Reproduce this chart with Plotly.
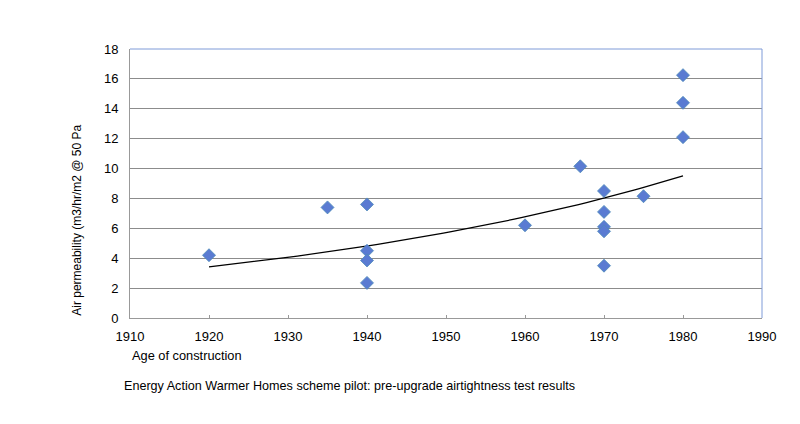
import numpy as np
import plotly.graph_objects as go

# pre-upgrade airtightness test results
year_built = [1920, 1935, 1940, 1940, 1940, 1940, 1960, 1967,
              1970, 1970, 1970, 1970, 1970, 1975, 1980, 1980, 1980]
air_perm = [4.2, 7.4, 7.6, 4.5, 3.85, 2.35, 6.2, 10.15,
            8.5, 7.1, 6.1, 5.8, 3.5, 8.15, 16.25, 14.4, 12.1]

x_ticks = [1910, 1920, 1930, 1940, 1950, 1960, 1970, 1980, 1990]
y_ticks = [0, 2, 4, 6, 8, 10, 12, 14, 16, 18]

# exponential trendline, same as the spreadsheet one
xa = np.array(year_built, dtype=float)
b, ln_a = np.polyfit(xa, np.log(air_perm), 1)
trend_x = np.linspace(xa.min(), xa.max(), 60)
trend_y = np.exp(ln_a + b * trend_x)

fig = go.Figure()

fig.add_trace(go.Scatter(x=trend_x, y=trend_y, mode='lines',
                         line=dict(color='black', width=1.3),
                         hoverinfo='skip'))

fig.add_trace(go.Scatter(x=year_built, y=air_perm, mode='markers',
                         marker=dict(symbol='diamond', size=10, color='#5A7BD2',
                                     line=dict(color='#4E8CB8', width=0.8))))

# the page body has an 8px margin, so the margins below are shifted by 8
fig.update_layout(
    width=800, height=424,
    margin=dict(l=122, r=46, t=41, b=114),
    paper_bgcolor='white', plot_bgcolor='white',
    showlegend=False,
    font=dict(family='Liberation Sans, Arial', size=13, color='black'),
    xaxis=dict(range=[1910, 1990], tickvals=x_ticks, showgrid=False,
               showline=True, linecolor='#999999', linewidth=1,
               ticks='inside', ticklen=3, tickcolor='#999999',
               ticklabelstandoff=6,
               zeroline=False, mirror=False),
    yaxis=dict(range=[0, 18], tickvals=y_ticks, showgrid=True,
               gridcolor='#8c8c8c', gridwidth=1,
               showline=True, linecolor='#999999', linewidth=1,
               ticks='', ticklabelstandoff=8,
               zeroline=False),
    shapes=[
        # blue frame on top and right of the plot area
        dict(type='line', xref='paper', yref='paper', x0=0, x1=1, y0=1, y1=1,
             line=dict(color='#7F9BD8', width=1)),
        dict(type='line', xref='paper', yref='paper', x0=1, x1=1, y0=0, y1=1,
             line=dict(color='#7F9BD8', width=1)),
    ],
    annotations=[
        dict(text='Air permeability (m3/hr/m2 @ 50 Pa', textangle=-90,
             xref='paper', yref='paper', x=-0.085, y=0,
             xanchor='center', yanchor='bottom', showarrow=False,
             font=dict(size=12)),
        dict(text='Age of construction', xref='paper', yref='paper',
             x=0, y=-0.104, xanchor='left', yanchor='top', showarrow=False,
             font=dict(size=12.8)),
        dict(text='Energy Action Warmer Homes scheme pilot: pre-upgrade airtightness test results',
             xref='paper', yref='paper', x=-0.012, y=-0.219,
             xanchor='left', yanchor='top', showarrow=False,
             font=dict(size=12.6)),
    ],
)

fig.write_html("out.html")
